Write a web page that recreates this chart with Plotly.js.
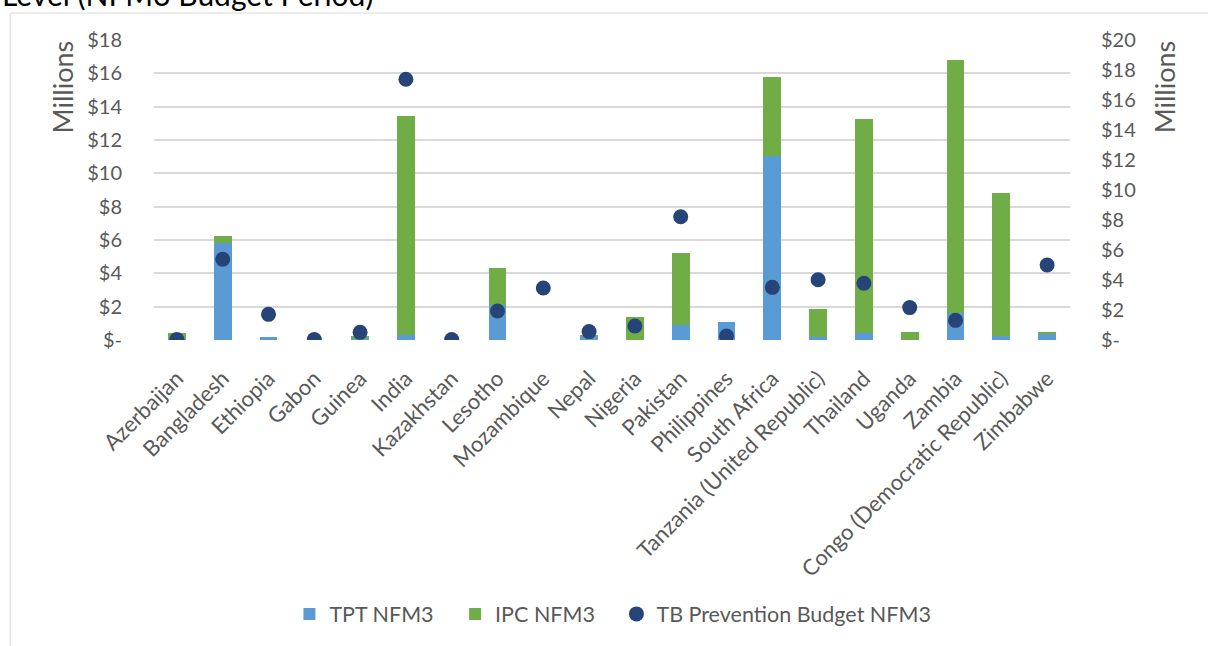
<!DOCTYPE html>
<html>
<head>
<meta charset="utf-8">
<script src="https://cdn.plot.ly/plotly-3.0.1.min.js"></script>
<style>
  html, body { margin: 0; padding: 0; background: #ffffff; }
  #chart { width: 1208px; height: 646px; }
</style>
</head>
<body>
<div id="chart"></div>
<script>
// Countries on the category axis
const countries = [
  "Azerbaijan", "Bangladesh", "Ethiopia", "Gabon", "Guinea", "India",
  "Kazakhstan", "Lesotho", "Mozambique", "Nepal", "Nigeria", "Pakistan",
  "Philippines", "South Africa", "Tanzania (United Republic)", "Thailand",
  "Uganda", "Zambia", "Congo (Democratic Republic)", "Zimbabwe"
];

// TPT budget, NFM3 (USD millions) - left axis, bottom of stack
const tptNFM3 = [0.0, 5.84, 0.18, 0.0, 0.05, 0.30, 0.0, 2.10, 0.0, 0.18, 0.0, 0.90,
                 1.06, 11.06, 0.18, 0.42, 0.0, 1.60, 0.26, 0.38];

// IPC budget, NFM3 (USD millions) - left axis, stacked on TPT
const ipcNFM3 = [0.40, 0.42, 0.0, 0.0, 0.20, 13.14, 0.0, 2.24, 0.0, 0.12, 1.36, 4.30,
                 0.0, 4.70, 1.68, 12.84, 0.46, 15.18, 8.54, 0.08];

// Total TB prevention budget, NFM3 (USD millions) - right axis
const tbPrevNFM3 = [0.03, 5.38, 1.71, 0.03, 0.51, 17.38, 0.03, 1.93, 3.47, 0.56, 0.93, 8.22,
                    0.27, 3.51, 4.02, 3.78, 2.16, 1.31, null, 5.00];

// Axis tick labels
const leftTickVals = [0, 2, 4, 6, 8, 10, 12, 14, 16, 18];
const leftTickText = ["$-", "$2", "$4", "$6", "$8", "$10", "$12", "$14", "$16", "$18"];
const rightTickVals = [0, 2, 4, 6, 8, 10, 12, 14, 16, 18, 20];
const rightTickText = ["$-", "$2", "$4", "$6", "$8", "$10", "$12", "$14", "$16", "$18", "$20"];

const FONT = "Lato, 'Open Sans', sans-serif";
const TEXT = "#595959";
// trailing spacer widens the gap between horizontal legend entries
const PAD = "\u00a0\u00a0\u00a0";

const traces = [
  {
    type: "bar", name: "TPT NFM3" + PAD, x: countries, y: tptNFM3,
    marker: { color: "#5B9BD5" }, yaxis: "y"
  },
  {
    type: "bar", name: "IPC NFM3" + PAD, x: countries, y: ipcNFM3,
    marker: { color: "#70AD47" }, yaxis: "y"
  },
  {
    type: "scatter", mode: "markers", name: "TB Prevention Budget NFM3",
    x: countries, y: tbPrevNFM3, yaxis: "y2",
    marker: { color: "#264478", size: 15, symbol: "circle" }
  }
];

const layout = {
  width: 1208, height: 646,
  paper_bgcolor: "#ffffff", plot_bgcolor: "#ffffff",
  margin: { l: 154, r: 138, t: 40, b: 306 },
  barmode: "stack",
  bargap: 0.61,
  font: { family: FONT, size: 20, color: TEXT },
  showlegend: true,
  legend: {
    orientation: "h", x: 0.501, xanchor: "center", y: -0.913, yanchor: "middle",
    font: { family: FONT, size: 21.5, color: TEXT },
    traceorder: "normal", itemwidth: 30
  },
  xaxis: {
    type: "category", range: [-0.5, countries.length - 0.5],
    tickangle: -45, showgrid: false, zeroline: false,
    showline: false, ticks: "outside", ticklen: 16, tickcolor: "rgba(0,0,0,0)",
    automargin: false,
    tickfont: { family: FONT, size: 22, color: TEXT }
  },
  yaxis: {
    range: [0, 18], tickvals: leftTickVals, ticktext: leftTickText,
    showgrid: true, gridcolor: "#d9d9d9", gridwidth: 2, zeroline: false,
    ticks: "outside", ticklen: 27, tickcolor: "rgba(0,0,0,0)",
    tickfont: { family: FONT, size: 20, color: TEXT }, automargin: false
  },
  yaxis2: {
    range: [0, 20], tickvals: rightTickVals, ticktext: rightTickText,
    overlaying: "y", side: "right", showgrid: false, zeroline: false,
    ticks: "outside", ticklen: 26, tickcolor: "rgba(0,0,0,0)",
    tickfont: { family: FONT, size: 20, color: TEXT }, automargin: false
  },
  shapes: [
    {
      type: "rect", xref: "paper", yref: "paper",
      x0: -0.157, x1: 1.2, y0: -1.1, y1: 1.09,
      line: { color: "#d9d9d9", width: 1 }, fillcolor: "rgba(0,0,0,0)", layer: "below"
    }
  ],
  annotations: [
    {
      text: "Level (NFM3 Budget Period)", xref: "paper", yref: "paper",
      x: -0.168, y: 1.088, xanchor: "left", yanchor: "bottom", showarrow: false,
      font: { family: FONT, size: 30, color: "#000000" }
    },
    {
      text: "Millions", xref: "paper", yref: "paper", x: -0.1, y: 1.005,
      xanchor: "center", yanchor: "top", textangle: -90, showarrow: false,
      font: { family: FONT, size: 27, color: TEXT }
    },
    {
      text: "Millions", xref: "paper", yref: "paper", x: 1.103, y: 1.005,
      xanchor: "center", yanchor: "top", textangle: -90, showarrow: false,
      font: { family: FONT, size: 27, color: TEXT }
    }
  ]
};

Plotly.newPlot("chart", traces, layout, { displayModeBar: false, staticPlot: true });
</script>
</body>
</html>
